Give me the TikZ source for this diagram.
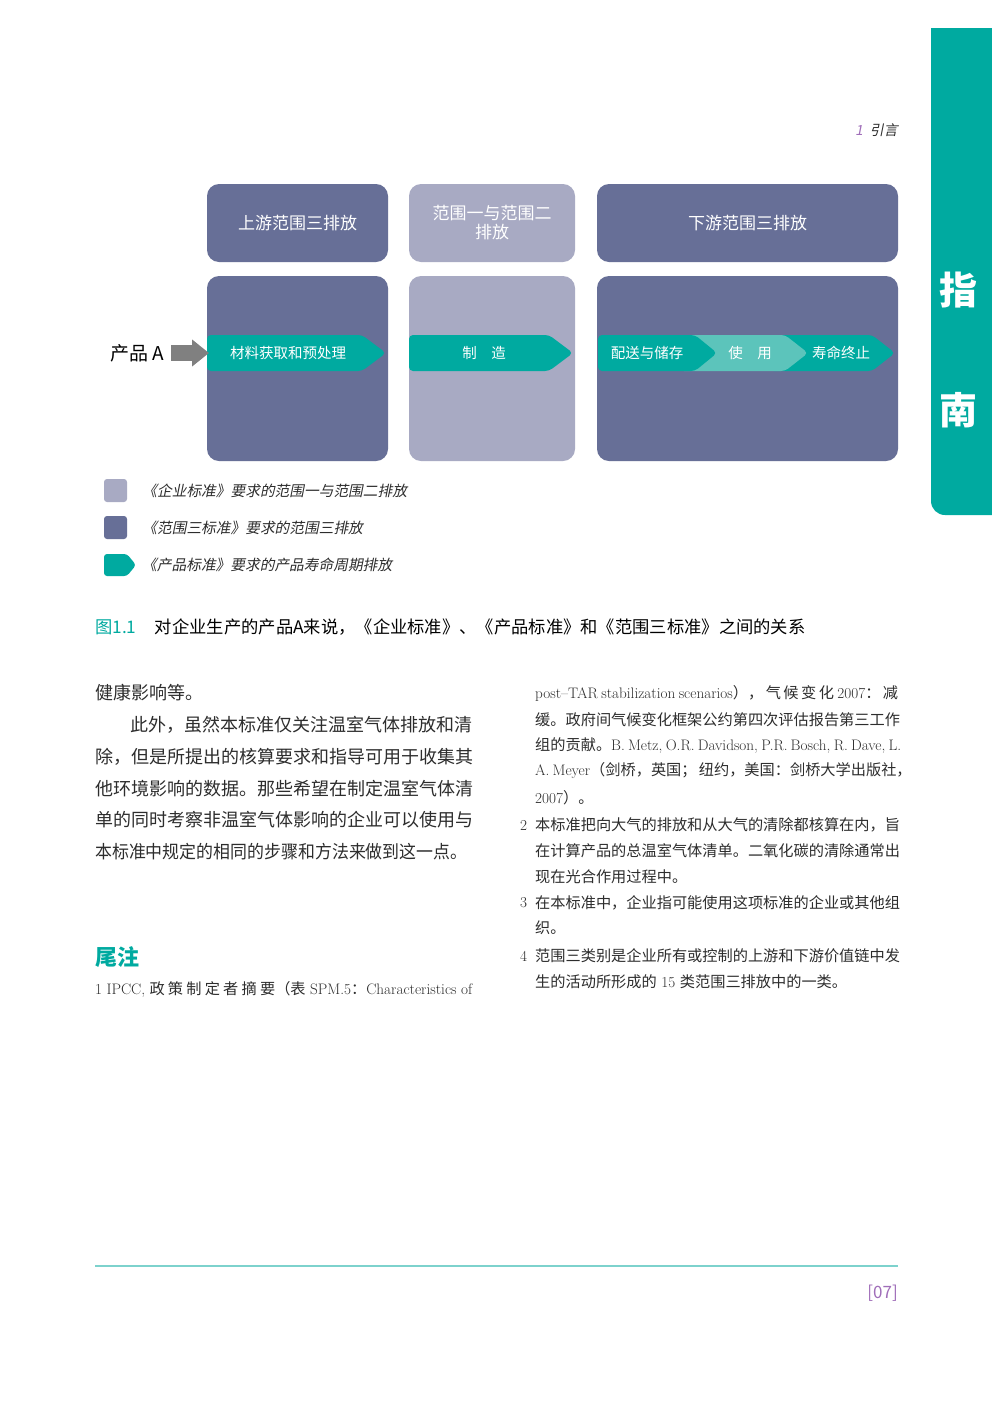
\documentclass[tikz,border=0pt]{standalone}
\usepackage{fontspec}
\usepackage{tikz}
\usetikzlibrary{arrows.meta}
\usetikzlibrary{positioning}
\newfontfamily\cjk{Noto Sans CJK SC}
\newfontfamily\cjkit[FakeSlant=0.2]{Noto Sans CJK SC}
\definecolor{mslate}{RGB}{103,111,151}
\definecolor{mlilac}{RGB}{168,170,195}
\definecolor{mteal}{RGB}{0,170,160}
\definecolor{mmint}{RGB}{92,196,187}
\definecolor{mgray}{RGB}{128,128,128}
\definecolor{mpurple}{RGB}{160,110,185}
\definecolor{mline}{RGB}{125,210,205}
\definecolor{mtext}{RGB}{45,45,45}
\tikzset{panel/.style = {rounded corners=12pt, inner sep=0pt},
         title/.style = {text=white, align=center, font=\cjk\fontsize{17}{19}\selectfont},
         band/.style = {text=white, inner sep=0pt, font=\cjk\fontsize{14.5}{16}\selectfont},
         key/.style = {minimum size=23pt, inner sep=0pt, rounded corners=3pt},
         legend/.style = {anchor=west, inner sep=0pt, text=mtext,
                          font=\cjkit\fontsize{14.7}{16}\selectfont},
         capstyle/.style = {anchor=west, inner sep=0pt, font=\cjk\fontsize{17.3}{18}\selectfont},
         body/.style = {anchor=west, inner sep=0pt, text=mtext, font=\cjk\fontsize{18}{20}\selectfont},
         note/.style = {anchor=west, inner sep=0pt, text=mtext, font=\fontsize{15.2}{18}\selectfont},
         notecjk/.style = {note, font=\cjk\fontsize{15.2}{18}\selectfont},
         tabchar/.style = {text=white, inner sep=0pt, font=\cjk\bfseries\fontsize{38}{40}\selectfont}}
% colour, left, end of body, tip
\newcommand{\chev}[4]{\fill[#1, rounded corners=4pt] (#2,335) -- (#3,335) -- (#4,353) -- (#3,371) -- (#2,371) -- cycle;}

\begin{document}
\begin{tikzpicture}[x=1pt, y=-1pt]
  \useasboundingbox (0,0) rectangle (992,1403);
  \fill[white] (0,0) rectangle (992,1403);

  % side tab and running head
  \fill[mteal] (931,28) rectangle (992,495);
  \fill[mteal, rounded corners=14pt] (931,470) -- (931,515) -- (1010,515) -- (1010,470) -- cycle;
  \node[tabchar] (tabA) at (958,290) {指};
  \node[tabchar] (tabB) at (958,410) {南};
  \node[anchor=east, inner sep=0pt, text=mtext, font=\cjkit\fontsize{14}{16}\selectfont] (chapter) at (898,130) {{\color{mpurple}1}\hspace{7pt}引言};

  % scopes
  \node[panel, fill=mslate, minimum width=181pt, minimum height=78pt, title] (upTop) at (297.5,223) {上游范围三排放};
  \node[panel, fill=mlilac, minimum width=166pt, minimum height=78pt, title] (midTop) at (492,223) {范围一与范围二\\排放};
  \node[panel, fill=mslate, minimum width=301pt, minimum height=78pt, title] (downTop) at (747.5,223) {下游范围三排放};
  \node[panel, fill=mslate, minimum width=181pt, minimum height=185pt] (upLow) at (297.5,368.5) {};
  \node[panel, fill=mlilac, minimum width=166pt, minimum height=185pt] (midLow) at (492,368.5) {};
  \node[panel, fill=mslate, minimum width=301pt, minimum height=185pt] (downLow) at (747.5,368.5) {};

  % life cycle
  \chev{mteal}{207}{362}{386}
  \chev{mteal}{409}{549}{573}
  \chev{mteal}{770}{872}{895}
  \chev{mmint}{680}{785}{808}
  \chev{mteal}{598}{695}{717}
  \node[band] (matTxt) at (288,353) {材料获取和预处理};
  \node[band] (mfgTxt) at (484,353) {制\hspace{1em}造};
  \node[band] (distTxt) at (647,353) {配送与储存};
  \node[band] (useTxt) at (750,353) {使\hspace{1em}用};
  \node[band] (eolTxt) at (841,353) {寿命终止};

  \node[inner sep=0pt, font=\cjk\fontsize{19}{20}\selectfont] (prodA) at (137,353) {产品 A};
  \coordinate (matIn) at (209,353);
  \draw[mgray, line width=16pt, shorten <=7pt, -{Triangle[length=17pt, width=26pt]}] (prodA) -- (matIn);

  % legend
  \node[key, fill=mlilac] (keyA) at (115.5,490.5) {};
  \node[legend, right=15pt of keyA] (keyAtxt) {《企业标准》要求的范围一与范围二排放};
  \node[key, fill=mslate] (keyB) at (115.5,527.5) {};
  \node[legend, right=15pt of keyB] (keyBtxt) {《范围三标准》要求的范围三排放};
  \fill[mteal, rounded corners=3pt] (104,554) -- (127,554) -- (136,565) -- (127,576) -- (104,576) -- cycle;
  \node[legend] (keyCtxt) at (142,565) {《产品标准》要求的产品寿命周期排放};

  % caption
  \node[capstyle, text=mteal] (figNo) at (95,627) {图1.1};
  \node[capstyle, right=18pt of figNo] (figCap) {对企业生产的产品A来说，《企业标准》、《产品标准》和《范围三标准》之间的关系};

  % left column
  \node[body] (bodyA) at (95,693) {健康影响等。};
  \node[body] (bodyB) at (130,725) {此外，虽然本标准仅关注温室气体排放和清};
  \node[body] (bodyC) at (95,757) {除，但是所提出的核算要求和指导可用于收集其};
  \node[body] (bodyD) at (95,789) {他环境影响的数据。那些希望在制定温室气体清};
  \node[body] (bodyE) at (95,820) {单的同时考察非温室气体影响的企业可以使用与};
  \node[body] (bodyF) at (95,852) {\scalebox{0.94}[1]{本标准中规定的相同的步骤和方法来做到这一点。}};
  \node[anchor=west, inner sep=0pt, text=mteal, font=\cjk\bfseries\fontsize{22}{24}\selectfont] (endnotes) at (95,957) {尾注};
  \node[note] (noteA) at (95,989) {\makebox[377pt][s]{1 IPCC, {\cjk 政 策 制 定 者 摘 要（表} SPM.5{\cjk ：}Characteristics of}};

  % right column
  \node[note] (noteB) at (535,693) {\makebox[363pt][s]{post--TAR stabilization scenarios{\cjk ）， 气 候 变 化} 2007{\cjk ： 减}}};
  \node[notecjk] (noteC) at (535,720) {缓。政府间气候变化框架公约第四次评估报告第三工作};
  \node[note] (noteD) at (535,746) {\makebox[363pt][s]{{\cjk 组的贡献。}B. Metz, O.R. Davidson, P.R. Bosch, R. Dave, L.}};
  \node[note] (noteE) at (535,771) {\makebox[363pt][s]{A. Meyer{\cjk （剑桥，英国； 纽约，美国：剑桥大学出版社，}}};
  \node[note] (noteF) at (535,798) {2007{\cjk ）。}};
  \node[note] (numB) at (520,825) {2};
  \node[notecjk] (noteG) at (535,825) {本标准把向大气的排放和从大气的清除都核算在内，旨};
  \node[notecjk] (noteH) at (535,851) {在计算产品的总温室气体清单。二氧化碳的清除通常出};
  \node[notecjk] (noteI) at (535,877) {现在光合作用过程中。};
  \node[note] (numC) at (520,903) {3};
  \node[notecjk] (noteJ) at (535,903) {在本标准中，企业指可能使用这项标准的企业或其他组};
  \node[notecjk] (noteK) at (535,928) {织。};
  \node[note] (numD) at (520,956) {4};
  \node[notecjk] (noteL) at (535,956) {范围三类别是企业所有或控制的上游和下游价值链中发};
  \node[note] (noteM) at (535,982) {{\cjk 生的活动所形成的} 15 {\cjk 类范围三排放中的一类。}};

  % footer
  \draw[mline, line width=1.5pt] (95,1266) -- (898,1266);
  \node[anchor=east, inner sep=0pt, text=mpurple, font=\cjk\fontsize{17}{18}\selectfont] (pageNo) at (898,1293) {[07]};
\end{tikzpicture}
\end{document}
